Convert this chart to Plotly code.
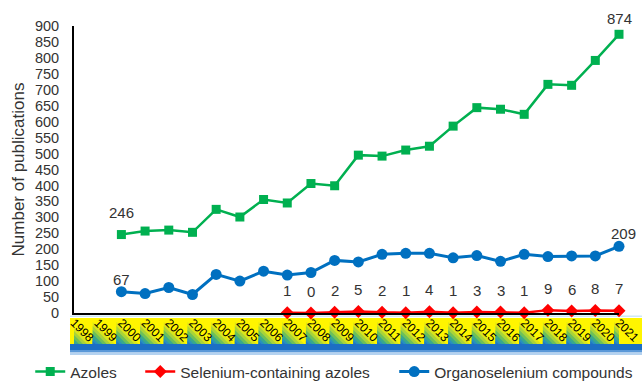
import plotly.graph_objects as go

# Publication counts per year
years = list(range(1998, 2022))
year_labels = [str(y) for y in years]

azoles = [None, None, 246, 257, 260, 253, 325, 301, 356, 345, 406, 399,
          495, 492, 511, 523, 586, 644, 639, 623, 717, 714, 792, 874]
se_azoles = [None] * 9 + [1, 0, 2, 5, 2, 1, 4, 1, 3, 3, 1, 9, 6, 8, 7]
organo_se = [None, None, 67, 61, 80, 58, 121, 100, 131, 119, 127, 165,
             160, 184, 187, 187, 173, 180, 162, 184, 177, 179, 179, 209]

GREEN = "#00B050"
RED = "#FF0000"
BLUE = "#0070C0"
FONT = "Arial, Liberation Sans, sans-serif"

W, H = 642, 381
M_L, M_R, M_T, M_B = 74, 23, 26, 68
PLOT_W = W - M_L - M_R
PLOT_H = H - M_T - M_B
X0, X1 = years[0], years[-1]


def py_paper(py):
    """pixel row -> paper y"""
    return (H - M_B - py) / PLOT_H


def px_data(dpx):
    """pixel width -> x data units"""
    return dpx * (X1 - X0) / PLOT_W


fig = go.Figure()

fig.add_trace(go.Scatter(
    x=years, y=azoles, name="Azoles", mode="lines+markers",
    line=dict(color=GREEN, width=2.5),
    marker=dict(symbol="square", size=9, color=GREEN),
    cliponaxis=False, connectgaps=False, legendwidth=65,
))
fig.add_trace(go.Scatter(
    x=years, y=se_azoles, name="Selenium-containing azoles", mode="lines+markers",
    line=dict(color=RED, width=2.5),
    marker=dict(symbol="diamond", size=10, color=RED),
    cliponaxis=False, legendwidth=209,
))
fig.add_trace(go.Scatter(
    x=years, y=organo_se, name="Organoselenium compounds", mode="lines+markers",
    line=dict(color=BLUE, width=3),
    marker=dict(symbol="circle", size=11, color=BLUE),
    cliponaxis=False,
))

# Value labels
annotations = []


def value_label(x, v, dy, dx=0):
    annotations.append(dict(
        x=x, y=v, text=str(v), showarrow=False, xref="x", yref="y",
        yshift=dy, xshift=dx, font=dict(family=FONT, size=15, color="#333333"),
    ))


first_az = next(i for i, v in enumerate(azoles) if v is not None)
value_label(years[first_az], azoles[first_az], 22)
value_label(years[-1], azoles[-1], 16)
first_os = next(i for i, v in enumerate(organo_se) if v is not None)
value_label(years[first_os], organo_se[first_os], 12)
value_label(years[-1], organo_se[-1], 13, 4)
for x, v in zip(years, se_azoles):
    if v is not None:
        value_label(x, v, 22)

# Category label band: yellow strip, sawtooth gradient triangles, blue base
BAND_X0 = -4 / PLOT_W
BAND_X1 = (W - M_L) / PLOT_W
shapes = [
    dict(type="rect", xref="paper", yref="paper", x0=BAND_X0, x1=BAND_X1,
         y0=py_paper(317), y1=py_paper(315.5),
         fillcolor="#CFE8F6", line=dict(width=0), layer="below"),
    dict(type="rect", xref="paper", yref="paper", x0=BAND_X0, x1=BAND_X1,
         y0=py_paper(346), y1=py_paper(318),
         fillcolor="#FFF500", line=dict(width=0), layer="below"),
]
T, B = 322, 346
tri_colors = [(0, "#D9E61C"), (4, "#A9D33A"), (8, "#6CC05A"), (12, "#38A88E"),
              (16, "#2890BE"), (19, "#1F76C8")]
for shrink, col in tri_colors:
    parts = []
    for yr in years:
        L = yr - px_data(5)
        R = yr + px_data(19) - px_data(shrink)
        parts.append(f"M{L},{py_paper(T + shrink)} L{L},{py_paper(B)} L{R},{py_paper(B)} Z")
    shapes.append(dict(type="path", xref="x", yref="paper", path=" ".join(parts),
                       fillcolor=col, line=dict(width=0), layer="below"))
shapes += [
    dict(type="rect", xref="paper", yref="paper", x0=BAND_X0, x1=BAND_X1,
         y0=py_paper(350), y1=py_paper(344),
         fillcolor="#1C6FC4", line=dict(width=0), layer="below"),
    dict(type="rect", xref="paper", yref="paper", x0=BAND_X0, x1=BAND_X1,
         y0=py_paper(352.5), y1=py_paper(350),
         fillcolor="#5A98D8", line=dict(width=0), layer="below"),
    dict(type="rect", xref="paper", yref="paper", x0=BAND_X0, x1=BAND_X1,
         y0=py_paper(355), y1=py_paper(352.5),
         fillcolor="#B4D2F0", line=dict(width=0), layer="below"),
]

fig.update_layout(
    width=W, height=H,
    margin=dict(l=M_L, r=M_R, t=M_T, b=M_B, autoexpand=False),
    paper_bgcolor="white", plot_bgcolor="white",
    font=dict(family=FONT, color="#333333"),
    showlegend=True,
    legend=dict(
        orientation="h", x=-0.0803, xanchor="left", y=py_paper(372), yanchor="middle",
        font=dict(family=FONT, size=15.5, color="#333333"),
        bgcolor="rgba(0,0,0,0)", itemwidth=30, tracegroupgap=0,
    ),
    annotations=annotations,
    shapes=shapes,
    xaxis=dict(
        range=[X0, X1], tickmode="array", tickvals=years, ticktext=year_labels,
        tickangle=45, tickfont=dict(family=FONT, size=12, color="black"),
        showgrid=False, zeroline=False, showline=True, linecolor="black", linewidth=2,
        ticks="", ticklabelstandoff=-4, automargin=False,
    ),
    yaxis=dict(
        range=[0, 900], tickmode="linear", tick0=0, dtick=50,
        tickfont=dict(family=FONT, size=14.5, color="#333333"),
        showgrid=False, zeroline=False, showline=True, linecolor="black", linewidth=2,
        ticks="", ticklabelstandoff=10, automargin=False,
        title=dict(text="Number of publications", standoff=6,
                   font=dict(family=FONT, size=17, color="#333333")),
    ),
)

fig.write_html("out.html")
